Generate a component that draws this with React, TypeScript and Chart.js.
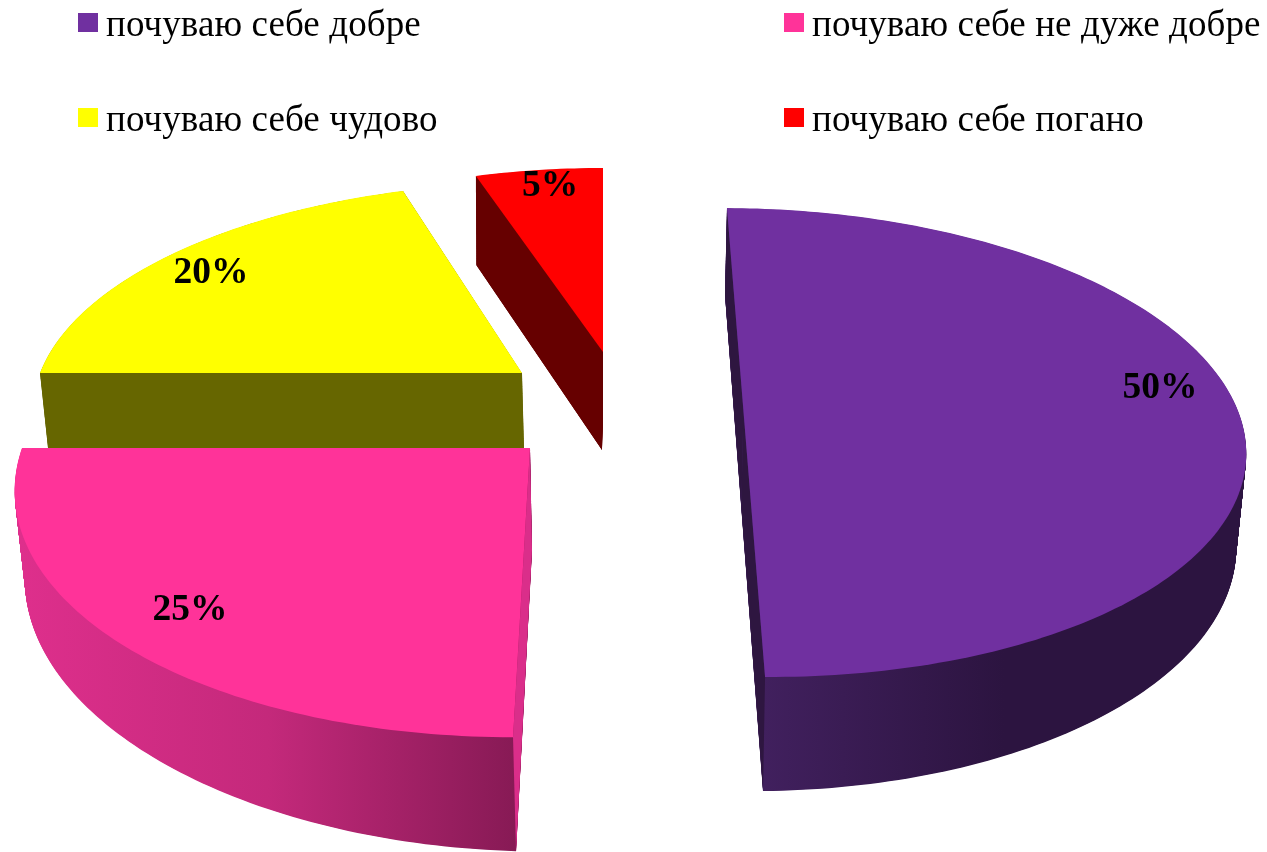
import React, { useEffect, useRef } from "react";
import { Chart, registerables } from "chart.js";

Chart.register(...registerables);

const WIDTH = 1267;
const HEIGHT = 852;

// Data
const categories = ["почуваю себе добре", "почуваю себе не дуже добре", "почуваю себе чудово", "почуваю себе погано"];
const shares = [50, 25, 20, 5];

// Colours
const topColors = ["#7030A0", "#FF3399", "#FFFF00", "#FF0000"];
const faceColors = ["#2E1640", "#DA2E8A", "#666600", "#660000"];
const wallStops: string[][] = [
  ["#41205E", "#2C1440", "#2C1440"],
  ["#DE2F8C", "#C4297B", "#871A55"],
  ["#666600", "#666600", "#666600"],
  ["#660000", "#660000", "#660000"],
];
const wallSpan = [[763, 1245], [20, 516], [40, 524], [476, 603]];

// Camera of each exploded slice: projective frame of the top and bottom disc
type Frame = { c: number[]; u: number[]; v: number[] };
const tilt = 0.14;
const topFrames: Frame[] = [
  { c: [743.35, 409.7], u: [495, 2], v: [85.4, -172.5] },
  { c: [530, 448], u: [508, 0], v: [88.8, -186] },
  { c: [522, 373], u: [482, 0], v: [88, -164.7] },
  { c: [603, 352], u: [466, 0], v: [84.4, -160.5] },
];
const bottomFrames: Frame[] = [
  { c: [741.35, 508.3], u: [487, -5], v: [85.15, -172] },
  { c: [532, 550], u: [500, 15], v: [88.2, -182] },
  { c: [524, 448], u: [476, 0], v: [88, -165] },
  { c: [602, 450], u: [461, -5.5], v: [84.3, -159.3] },
];
const cutFaces: ("start" | "end")[][] = [["start", "end"], ["start"], ["start"], ["start"]];
const drawOrder = [3, 2, 0, 1];

// Text placement
const labelBaselines = [[1160, 398], [190, 620], [211, 283], [550, 196]];
const legendSwatches = [[78, 13], [784, 13], [78, 108], [784, 108]];
const legendBaselines = [36, 36, 131, 131];
const legendTextX = [106, 812, 106, 812];
const textFamily = '"Liberation Serif", serif';

const lerp = (a: number, b: number, t: number) => a + (b - a) * t;
const mix = (a: Frame, b: Frame, t: number): Frame => ({
  c: [lerp(a.c[0], b.c[0], t), lerp(a.c[1], b.c[1], t)],
  u: [lerp(a.u[0], b.u[0], t), lerp(a.u[1], b.u[1], t)],
  v: [lerp(a.v[0], b.v[0], t), lerp(a.v[1], b.v[1], t)],
});

// Project an angle of the pie (as computed by Chart.js) onto a slice's frame
const at = (f: Frame, theta: number) => {
  const X = Math.cos(theta);
  const Y = -Math.sin(theta);
  const w = 1 + tilt * Y;
  return [(f.c[0] + f.u[0] * X + f.v[0] * Y) / w, (f.c[1] + f.u[1] * X + f.v[1] * Y) / w];
};

function slicePath(ctx: CanvasRenderingContext2D, arc: any, f: Frame) {
  const { startAngle, endAngle } = arc.getProps(["startAngle", "endAngle"], true);
  const n = Math.max(8, Math.ceil(((endAngle - startAngle) * 180) / Math.PI));
  ctx.beginPath();
  ctx.moveTo(f.c[0], f.c[1]);
  for (let k = 0; k <= n; k++) {
    const p = at(f, lerp(startAngle, endAngle, k / n));
    ctx.lineTo(p[0], p[1]);
  }
  ctx.closePath();
}

const pie3d = {
  id: "pie3d",
  beforeDatasetsDraw(chart: any) {
    const ctx: CanvasRenderingContext2D = chart.ctx;
    const arcs = chart.getDatasetMeta(0).data;
    for (const i of drawOrder) {
      const arc = arcs[i];
      const top = topFrames[i];
      const bottom = bottomFrames[i];
      const grad = ctx.createLinearGradient(wallSpan[i][0], 0, wallSpan[i][1], 0);
      wallStops[i].forEach((col, k) => grad.addColorStop(k / (wallStops[i].length - 1), col));
      ctx.fillStyle = grad;
      const steps = 160;
      for (let s = 0; s < steps; s++) {
        slicePath(ctx, arc, mix(bottom, top, s / steps));
        ctx.fill();
      }
      const { startAngle, endAngle } = arc.getProps(["startAngle", "endAngle"], true);
      ctx.fillStyle = faceColors[i];
      for (const edge of cutFaces[i]) {
        const th = edge === "start" ? startAngle : endAngle;
        const p1 = at(top, th), p2 = at(bottom, th);
        ctx.beginPath();
        ctx.moveTo(top.c[0], top.c[1]);
        ctx.lineTo(p1[0], p1[1]);
        ctx.lineTo(p2[0], p2[1]);
        ctx.lineTo(bottom.c[0], bottom.c[1]);
        ctx.closePath();
        ctx.fill();
      }
      slicePath(ctx, arc, top);
      ctx.fillStyle = topColors[i];
      ctx.fill();
    }
    return false;
  },
  afterDraw(chart: any) {
    const ctx: CanvasRenderingContext2D = chart.ctx;
    ctx.save();
    ctx.fillStyle = "#000";
    ctx.textAlign = "center";
    ctx.textBaseline = "alphabetic";
    ctx.font = `bold 37.5px ${textFamily}`;
    shares.forEach((v, i) => ctx.fillText(`${v}%`, labelBaselines[i][0], labelBaselines[i][1]));
    ctx.textAlign = "left";
    ctx.font = `37px ${textFamily}`;
    (ctx as any).letterSpacing = "0.09px";
    categories.forEach((name, i) => {
      ctx.fillStyle = topColors[i];
      ctx.fillRect(legendSwatches[i][0], legendSwatches[i][1], 20, 19);
      ctx.fillStyle = "#000";
      ctx.fillText(name, legendTextX[i], legendBaselines[i]);
    });
    ctx.restore();
  },
};

export default function App() {
  const ref = useRef<HTMLCanvasElement | null>(null);
  useEffect(() => {
    const chart = new Chart(ref.current as HTMLCanvasElement, {
      type: "pie",
      data: {
        labels: categories,
        datasets: [{ data: shares, backgroundColor: topColors, borderWidth: 0 }],
      },
      options: {
        responsive: false,
        animation: false,
        rotation: 0,
        layout: { padding: 0 },
        plugins: { legend: { display: false }, tooltip: { enabled: false } },
      },
      plugins: [pie3d],
    } as any);
    return () => chart.destroy();
  }, []);
  return (
    <div style={{ position: "fixed", left: 0, top: 0, width: WIDTH, height: HEIGHT, background: "#fff" }}>
      <canvas ref={ref} width={WIDTH} height={HEIGHT} style={{ display: "block" }} />
    </div>
  );
}
